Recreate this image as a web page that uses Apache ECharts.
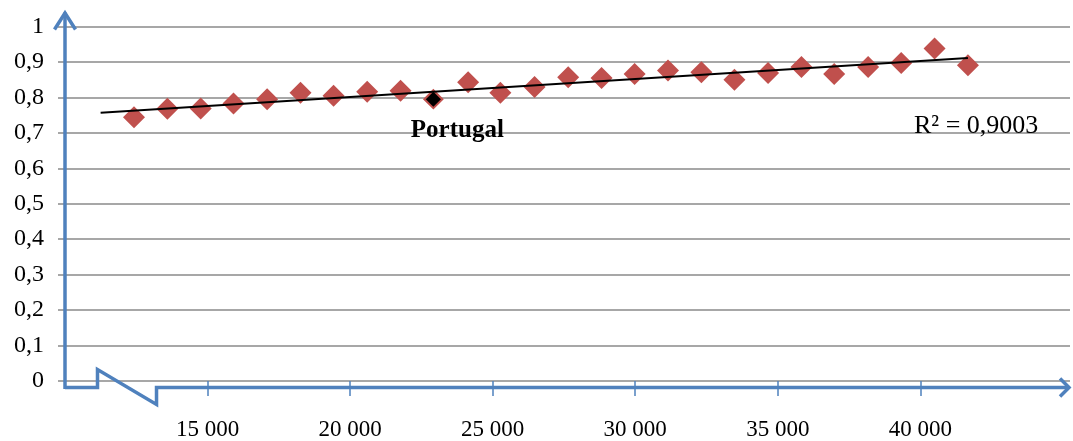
<!DOCTYPE html>
<html>
<head>
<meta charset="utf-8">
<script src="https://cdn.jsdelivr.net/npm/echarts@6/dist/echarts.min.js"></script>
<style>
html,body{margin:0;padding:0;background:#fff;}
#chart{width:1073px;height:441px;}
</style>
</head>
<body>
<div id="chart"></div>
<script>
// GDP per capita (x) vs index (y)
const gdp = [12420, 13590, 14760, 15910, 17090, 18260, 19420, 20600, 21770, 22920, 24140, 25270, 26470, 27650, 28820, 29980, 31150, 32320, 33480, 34660, 35830, 36980, 38170, 39330, 40500, 41670];
const index = [0.744, 0.768, 0.769, 0.783, 0.795, 0.813, 0.805, 0.816, 0.819, 0.795, 0.843, 0.813, 0.829, 0.857, 0.855, 0.866, 0.876, 0.871, 0.850, 0.869, 0.886, 0.866, 0.886, 0.897, 0.938, 0.891];
const highlightIndex = 9; // Portugal
const highlightName = 'Portugal';
const trendX = [11250, 41670];
const trendY = [0.757, 0.911];
const r2Label = 'R² = 0,9003';
const xTicks = [15000, 20000, 25000, 30000, 35000, 40000];

const FONT = "'Liberation Serif', 'Times New Roman', serif";
const BLUE = '#4F81BD';
const RED = '#C0504D';
const GRID = '#8a8a8a';

const chart = echarts.init(document.getElementById('chart'), null, {renderer: 'canvas'});

const points = gdp.map((x, i) => {
  if (i === highlightIndex) {
    return {
      value: [x, index[i]],
      symbolSize: 18,
      itemStyle: {color: '#000', borderColor: RED, borderWidth: 2},
      label: {
        show: true, formatter: highlightName, position: 'inside', offset: [24, 31],
        fontFamily: FONT, fontWeight: 'bold', fontSize: 25, color: '#000'
      }
    };
  }
  return [x, index[i]];
});

const fmtX = v => String(v).replace(/\B(?=(\d{3})+(?!\d))/g, ' ');
const fmtY = v => (Math.round(v * 10) / 10).toString().replace('.', ',');

chart.setOption({
  animation: false,
  backgroundColor: '#fff',
  grid: {left: 65, right: 3, top: 26.5, bottom: 58.5, containLabel: false},
  xAxis: {
    type: 'value', min: 10000, max: 45250, interval: 5000,
    axisLine: {show: false},
    splitLine: {show: false},
    axisTick: {show: true, customValues: xTicks, length: 15, inside: false, lineStyle: {color: BLUE, width: 1.5}},
    axisLabel: {customValues: xTicks, formatter: fmtX, margin: 37, fontFamily: FONT, fontSize: 23, color: '#000'}
  },
  yAxis: {
    type: 'value', min: 0, max: 1, interval: 0.1,
    axisLine: {show: false},
    axisTick: {show: true, length: 7, lineStyle: {color: GRID, width: 1.5}},
    splitLine: {show: true, lineStyle: {color: GRID, width: 1.5}},
    axisLabel: {formatter: fmtY, margin: 21, fontFamily: FONT, fontSize: 24, color: '#000'}
  },
  series: [
    {
      type: 'line', data: trendX.map((x, i) => [x, trendY[i]]),
      showSymbol: false, symbol: 'none', lineStyle: {color: '#000', width: 2}, z: 3, silent: true
    },
    {
      type: 'scatter', data: points, symbol: 'diamond', symbolSize: 22,
      itemStyle: {color: RED, opacity: 1}, z: 2
    }
  ]
});

// Axis lines with open arrows and the axis break (decoration)
const p = (x, y) => chart.convertToPixel({gridIndex: 0}, [x, y]);
const origin = p(10000, 0);
const x0 = origin[0];
const yAxisBottom = origin[1] + 8;
const xAxisY = origin[1] + 6.5;
const yTop = p(10000, 1)[1] - 14;
const xRight = p(45250, 0)[0];
const brk1 = p(11140, 0)[0];
const brk2 = p(13210, 0)[0];
const lineStyle = {stroke: BLUE, lineWidth: 3.5, fill: null, lineJoin: 'miter'};
chart.setOption({
  graphic: [
    {type: 'polyline', z: 100, shape: {points: [[x0, yAxisBottom], [x0, yTop]]}, style: lineStyle},
    {type: 'polyline', z: 100, shape: {points: [[x0 - 10.5, yTop + 17], [x0, yTop + 0.5], [x0 + 10.5, yTop + 17]]}, style: lineStyle},
    {type: 'polyline', z: 100, shape: {points: [[x0, xAxisY], [brk1, xAxisY], [brk1, xAxisY - 18], [brk2, xAxisY + 17], [brk2, xAxisY], [xRight - 1, xAxisY]]}, style: lineStyle},
    {type: 'polyline', z: 100, shape: {points: [[xRight - 10, xAxisY - 9], [xRight - 1, xAxisY], [xRight - 10, xAxisY + 9]]}, style: lineStyle},
    {type: 'text', z: 100, x: 914, y: 126, style: {text: r2Label, font: "26px 'Liberation Serif', 'Times New Roman', serif", fill: '#000', textVerticalAlign: 'middle'}}
  ]
});
</script>
</body>
</html>
